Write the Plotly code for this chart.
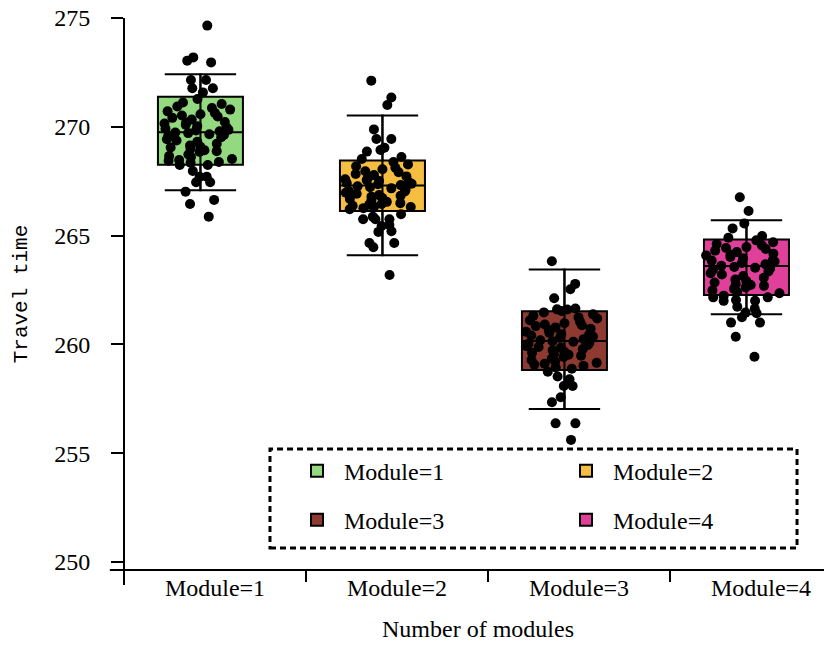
import plotly.graph_objects as go

# ---------------- data ----------------
CATEGORIES = ["Module=1", "Module=2", "Module=3", "Module=4"]
CAT_POS = [1, 2, 3, 4]

Q1 = [268.25, 266.13, 258.82, 262.27]
MEDIAN = [269.75, 267.30, 260.15, 263.60]
Q3 = [271.38, 268.45, 261.52, 264.82]
LOWER = [267.08, 264.10, 257.03, 261.38]
UPPER = [272.42, 270.52, 263.44, 265.70]

POINTS_M1 = [274.65, 273.19, 273.04, 272.96, 272.15, 272.15, 271.77, 271.77, 271.58,
             268.47, 268.35, 268.24, 268.24, 267.97, 267.70, 267.70, 267.45, 267.45,
             267.02, 266.64, 266.45, 265.87,
             271.28, 271.12, 271.05, 270.93, 270.86, 270.71, 270.64, 270.58, 270.47,
             270.41, 270.33, 270.22, 270.18, 270.09, 270.03, 269.97, 269.91, 269.86,
             269.79, 269.74, 269.71, 269.66, 269.58, 269.52, 269.43, 269.37, 269.31,
             269.22, 269.14, 269.08, 268.99, 268.92, 268.84, 268.73, 268.66, 268.61,
             268.52, 268.44, 268.38, 270.52, 269.62, 270.15, 269.05, 270.79, 268.88,
             269.83]
POINTS_M2 = [272.12, 271.35, 271.00, 269.88, 269.44, 269.44, 269.04, 268.93, 268.86,
             268.61, 268.52, 265.98, 265.87, 265.75, 265.75, 265.75, 265.49, 265.44,
             265.20, 265.17, 264.66, 264.66, 264.46, 263.19,
             268.38, 268.27, 268.19, 268.12, 268.05, 267.96, 267.91, 267.83, 267.78,
             267.72, 267.64, 267.59, 267.51, 267.46, 267.41, 267.36, 267.32, 267.27,
             267.22, 267.17, 267.11, 267.03, 266.97, 266.92, 266.86, 266.79, 266.73,
             266.68, 266.61, 266.55, 266.49, 266.42, 266.37, 266.31, 266.26, 266.21,
             267.55, 266.83, 267.05, 267.38, 266.45, 266.33]
POINTS_M3 = [263.82, 262.78, 262.53, 262.12, 261.61, 261.53, 261.60, 261.65, 258.74,
             258.52, 258.40, 258.09, 258.09, 257.57, 257.34, 256.37, 256.37, 255.61,
             261.47, 261.38, 261.31, 261.24, 261.19, 261.11, 261.04, 260.97, 260.91,
             260.84, 260.78, 260.72, 260.65, 260.58, 260.53, 260.47, 260.41, 260.36,
             260.30, 260.24, 260.19, 260.14, 260.08, 260.03, 259.97, 259.92, 259.85,
             259.79, 259.73, 259.66, 259.61, 259.55, 259.48, 259.42, 259.35, 259.28,
             259.21, 259.15, 259.07, 259.01, 258.94, 258.88, 260.12, 259.88, 260.45,
             259.52, 260.88, 259.11]
POINTS_M4 = [266.76, 266.13, 265.56, 265.33, 264.98, 264.90, 262.24, 262.16, 262.16,
             262.04, 262.00, 262.00, 261.73, 261.63, 261.46, 261.43, 261.25, 261.00,
             261.00, 260.35, 259.43,
             264.78, 264.69, 264.61, 264.55, 264.47, 264.38, 264.31, 264.24, 264.17,
             264.09, 264.02, 263.96, 263.88, 263.81, 263.74, 263.68, 263.61, 263.56,
             263.49, 263.42, 263.35, 263.27, 263.21, 263.14, 263.06, 262.98, 262.91,
             262.84, 262.77, 262.69, 262.62, 262.55, 262.48, 262.41, 262.35, 263.85,
             264.12, 263.52, 262.73, 264.43]
POINTS = [POINTS_M1, POINTS_M2, POINTS_M3, POINTS_M4]

Y_TICKS = [250, 255, 260, 265, 270, 275]

# ---------------- style ----------------
COLORS = ["#92D97F", "#F5BE41", "#8E3A30", "#E0409A"]
BOX_SHIFT = -0.08
BOX_W = 0.467
SERIF = "Liberation Serif, Times New Roman, serif"
MONO = "Liberation Mono, DejaVu Sans Mono, monospace"

fig = go.Figure()

for i in range(4):
    px = CAT_POS[i] + BOX_SHIFT
    # box with precomputed statistics
    fig.add_trace(go.Box(
        x=[px], q1=[Q1[i]], median=[MEDIAN[i]], q3=[Q3[i]],
        lowerfence=[LOWER[i]], upperfence=[UPPER[i]],
        width=BOX_W, whiskerwidth=0.84, boxpoints=False,
        fillcolor=COLORS[i], line=dict(color="black", width=2),
        name=CATEGORIES[i], legend="legend" if i < 2 else "legend2",
        hoverinfo="skip",
    ))
    # central vertical whisker line through the box
    fig.add_trace(go.Box(
        x=[px], q1=[LOWER[i]], median=[MEDIAN[i]], q3=[UPPER[i]],
        lowerfence=[LOWER[i]], upperfence=[UPPER[i]],
        width=0.0005, boxpoints=False,
        fillcolor="rgba(0,0,0,0)", line=dict(color="black", width=2),
        showlegend=False, hoverinfo="skip",
    ))

for i in range(4):
    px = CAT_POS[i] + BOX_SHIFT
    fig.add_trace(go.Box(
        x=[px] * len(POINTS[i]), y=POINTS[i],
        boxpoints="all", jitter=1.0, pointpos=0, width=BOX_W,
        fillcolor="rgba(0,0,0,0)", line=dict(color="rgba(0,0,0,0)", width=0),
        marker=dict(color="black", size=10),
        showlegend=False,
    ))

legend_common = dict(
    orientation="h", xanchor="left", yanchor="top",
    bgcolor="rgba(0,0,0,0)", borderwidth=0,
    font=dict(family=SERIF, size=24, color="black"),
    itemwidth=44, entrywidth=210, entrywidthmode="pixels",
)

# the page body adds an 8px offset, so the figure is 8px smaller each way
fig.update_layout(
    width=824, height=637,
    margin=dict(l=116, r=0, t=10, b=75),
    paper_bgcolor="white", plot_bgcolor="white",
    boxmode="overlay",
    legend=dict(x=0.2345, y=0.2200, **legend_common),
    legend2=dict(x=0.2345, y=0.1310, **legend_common),
    xaxis=dict(
        range=[0.5, 4.39], tickmode="array", tickvals=CAT_POS, ticktext=CATEGORIES,
        ticks="", showgrid=False, zeroline=False, showline=False, automargin=False,
        ticklabelstandoff=1, ticklabeloverflow="allow",
        tickfont=dict(family=SERIF, size=24, color="black"),
        minor=dict(tick0=0.5, dtick=1, ticks="outside", ticklen=11, tickwidth=2,
                   tickcolor="black", showgrid=False),
        title=dict(text="Number of modules", font=dict(family=SERIF, size=24, color="black"),
                   standoff=20),
    ),
    yaxis=dict(
        range=[249.63, 275], tickmode="array", tickvals=Y_TICKS,
        ticks="outside", ticklen=12, tickwidth=2, tickcolor="black",
        ticklabelstandoff=16, automargin=False, ticklabeloverflow="allow",
        showgrid=False, zeroline=False, showline=False,
        tickfont=dict(family=SERIF, size=24, color="black"),
        title=dict(text="Travel time", font=dict(family=MONO, size=21, color="black"),
                   standoff=20),
    ),
    shapes=[
        dict(type="line", xref="paper", yref="paper", x0=0, x1=0, y0=-0.0272, y1=1,
             line=dict(color="black", width=2)),
        dict(type="line", xref="paper", yref="paper", x0=-0.02, x1=1, y0=0, y1=0,
             line=dict(color="black", width=2)),
        dict(type="rect", xref="paper", yref="paper", x0=0.2062, x1=0.9506,
             y0=0.0399, y1=0.2192, line=dict(color="black", width=3, dash="6px,4px"),
             fillcolor="rgba(0,0,0,0)", layer="above"),
    ],
)

fig.write_html("out.html")
